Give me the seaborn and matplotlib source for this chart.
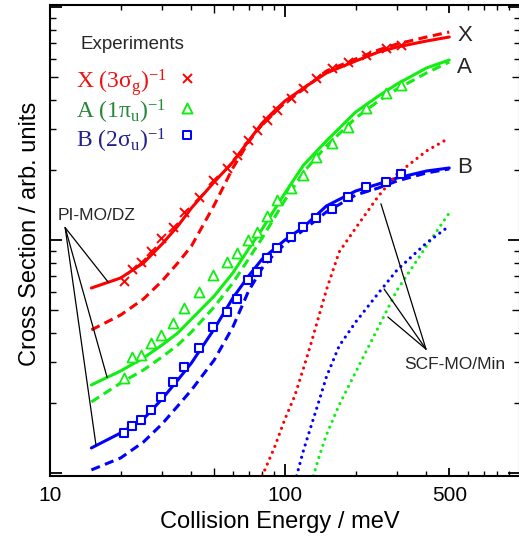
import numpy as np
import matplotlib
matplotlib.use("Agg")
import matplotlib.pyplot as plt
import seaborn as sns
from matplotlib.ticker import FixedLocator, FixedFormatter, NullFormatter

# ---------------- data ----------------
# experimental collision energies (meV), shared by the three ionic states
exp_energy = [20.6, 22.3, 24.4, 26.9, 29.7, 33.4, 37.2, 43.0, 49.4, 56.6, 62.5, 69.6,
              76.0, 83.8, 92.5, 106, 119, 135, 158, 185, 221, 269, 312]
exp_X = [0.667, 0.751, 0.805, 0.897, 1.020, 1.137, 1.319, 1.529, 1.809, 2.037, 2.316, 2.687,
         2.966, 3.273, 3.614, 4.069, 4.491, 4.958, 5.472, 5.808, 6.223, 6.668, 6.869]
exp_A = [0.2557, 0.3147, 0.3209, 0.3613, 0.3912, 0.4403, 0.5107, 0.598, 0.7077, 0.805, 0.8795, 1.0,
         1.082, 1.268, 1.485, 1.672, 1.901, 2.271, 2.609, 3.055, 3.686, 4.275, 4.627]
exp_B = [0.1485, 0.1591, 0.1689, 0.1864, 0.2120, 0.2458, 0.2850, 0.3439, 0.4232, 0.4909, 0.5581, 0.6734,
         0.7291, 0.8369, 0.9241, 1.030, 1.137, 1.243, 1.358, 1.529, 1.689, 1.774, 1.920]

# PI-MO/DZ calculations
theory_energy = [15, 20, 25, 30, 35, 40, 50, 60, 70, 80, 90, 100, 120, 150, 200, 250, 300, 400, 500]
pimo_X_solid = [0.622, 0.687, 0.797, 0.961, 1.148, 1.372, 1.774, 2.162, 2.660, 3.178, 3.577, 3.950,
                4.491, 5.209, 5.865, 6.411, 6.734, 7.146, 7.433]
pimo_X_dashed = [0.411, 0.4766, 0.5581, 0.667, 0.797, 0.942, 1.413, 2.037, 2.634, 3.147, 3.543, 3.873,
                 4.447, 5.313, 5.982, 6.539, 6.937, 7.433, 7.810]
pimo_A_solid = [0.2386, 0.2741, 0.3115, 0.3542, 0.399, 0.458, 0.575, 0.722, 0.915, 1.115, 1.345, 1.591,
                2.098, 2.660, 3.543, 4.150, 4.673, 5.472, 5.922]
pimo_A_dashed = [0.2017, 0.2433, 0.2767, 0.3147, 0.3542, 0.4029, 0.516, 0.654, 0.829, 1.020, 1.243, 1.485,
                 1.958, 2.532, 3.339, 3.950, 4.447, 5.209, 5.806]
pimo_B_solid = [0.128, 0.1485, 0.1705, 0.2078, 0.2506, 0.2966, 0.415, 0.5637, 0.7005, 0.829, 0.915, 1.0,
                1.137, 1.399, 1.623, 1.739, 1.845, 1.977, 2.037]
pimo_B_dashed = [0.103, 0.116, 0.1358, 0.1623, 0.194, 0.227, 0.3055, 0.4232, 0.604, 0.758, 0.871, 0.961,
                 1.104, 1.319, 1.560, 1.672, 1.792, 1.939, 2.017]

# SCF-MO/Min calculations
scf_X_energy = [80, 90, 100, 110, 120, 130, 150, 170, 200, 250, 300, 400, 500]
scf_X = [0.0971, 0.128, 0.1705, 0.214, 0.2822, 0.3686, 0.610, 0.8882, 1.126, 1.545, 1.920, 2.410, 2.740]
scf_B_energy = [112, 120, 130, 140, 150, 170, 200, 250, 300, 400, 500]
scf_B = [0.0971, 0.1255, 0.1623, 0.2057, 0.2582, 0.3508, 0.4446, 0.592, 0.7435, 0.9707, 1.148]
scf_A_energy = [132, 140, 150, 170, 200, 250, 300, 400, 500]
scf_A = [0.0971, 0.1183, 0.1456, 0.1957, 0.2713, 0.4232, 0.610, 0.942, 1.306]

x_tick_values = [10, 100, 500, 1000]
x_tick_labels = ["10", "100", "500", ""]

# ---------------- style ----------------
sns.set_theme(style="ticks")
plt.rcParams["font.family"] = ["Liberation Sans", "DejaVu Sans"]
plt.rcParams["mathtext.fontset"] = "custom"
plt.rcParams["mathtext.rm"] = "Liberation Serif"
plt.rcParams["mathtext.it"] = "Liberation Serif:italic"

RED = "#ff0000"
GREEN = "#11ee11"
BLUE = "#0000ff"
TXT_X = "#ee1111"
TXT_A = "#22883a"
TXT_B = "#22228a"

fig = plt.figure(figsize=(5.19, 5.39), dpi=100)
ax = fig.add_axes([50 / 519, 63 / 539, 470 / 519, 471 / 539])
ax.set_xscale("log")
ax.set_yscale("log")
ax.set_xlim(10, 1000)
ax.set_ylim(0.097, 10.2)

LW = 2.2
DASH = (0, (3.0, 1.8))
DOT = (0, (0.01, 2.0))

for y, c in [(pimo_X_solid, RED), (pimo_A_solid, GREEN), (pimo_B_solid, BLUE)]:
    sns.lineplot(x=theory_energy, y=y, color=c, linewidth=LW, ax=ax, zorder=2)
for y, c in [(pimo_X_dashed, RED), (pimo_A_dashed, GREEN), (pimo_B_dashed, BLUE)]:
    sns.lineplot(x=theory_energy, y=y, color=c, linewidth=LW, linestyle=DASH, ax=ax, zorder=2)
for e, y, c in [(scf_X_energy, scf_X, RED), (scf_A_energy, scf_A, GREEN), (scf_B_energy, scf_B, BLUE)]:
    sns.lineplot(x=e, y=y, color=c, linewidth=2.3, linestyle=DOT, ax=ax, zorder=2)
    ax.lines[-1].set_dash_capstyle("round")

sns.scatterplot(x=exp_energy, y=exp_X, marker="x", color=RED, s=42, linewidth=1.4, ax=ax, zorder=3)
sns.scatterplot(x=exp_energy, y=exp_A, marker="^", facecolor="white", edgecolor=GREEN, s=52,
                linewidth=1.3, ax=ax, zorder=3)
sns.scatterplot(x=exp_energy, y=exp_B, marker="s", facecolor="white", edgecolor=BLUE, s=40,
                linewidth=1.5, ax=ax, zorder=3)

# ---------------- axes / ticks ----------------
for sp in ax.spines.values():
    sp.set_linewidth(1.5)
    sp.set_color("black")
    sp.set_visible(True)

ax.xaxis.set_major_locator(FixedLocator(x_tick_values))
ax.xaxis.set_major_formatter(FixedFormatter(x_tick_labels))
x_minor = [k * 10 for k in range(2, 10)] + [k * 100 for k in range(2, 10) if k != 5]
ax.xaxis.set_minor_locator(FixedLocator(x_minor))
ax.xaxis.set_minor_formatter(NullFormatter())

y_major = [0.1, 1, 10]
y_minor = [k * 0.1 for k in range(2, 10)] + [k * 1.0 for k in range(2, 10)]
ax.yaxis.set_major_locator(FixedLocator(y_major))
ax.yaxis.set_minor_locator(FixedLocator(y_minor))
ax.yaxis.set_major_formatter(NullFormatter())
ax.yaxis.set_minor_formatter(NullFormatter())

ax.tick_params(which="both", direction="in", top=True, right=True, bottom=True, left=True,
               color="black")
ax.tick_params(which="major", length=8.6, width=1.3, pad=7, labelsize=15, labelcolor="black")
ax.tick_params(which="minor", length=3.6, width=1.0)
ax.tick_params(axis="y", which="minor", length=4.3)

MID = 5.8
for t, loc in zip(ax.xaxis.get_major_ticks(len(x_tick_values)), x_tick_values):
    if loc == 500:
        t.tick1line.set_markersize(MID)
        t.tick2line.set_markersize(MID)
for t, loc in zip(ax.xaxis.get_minor_ticks(len(x_minor)), x_minor):
    if loc == 50:
        t.tick1line.set_markersize(MID)
        t.tick2line.set_markersize(MID)
for t, loc in zip(ax.yaxis.get_minor_ticks(len(y_minor)), y_minor):
    if abs(loc - 5) < 1e-6 or abs(loc - 0.5) < 1e-6:
        t.tick1line.set_markersize(MID)
        t.tick2line.set_markersize(MID)

ax.set_xlabel("Collision Energy / meV", fontsize=17, color="black")
ax.set_ylabel("Cross Section / arb. units", fontsize=17, color="black")
ax.xaxis.set_label_coords(0.49, -0.074)
ax.yaxis.set_label_coords(-0.020, 0.515)

# ---------------- legend-like text block ----------------
ax.text(0.064, 0.917, "Experiments", transform=ax.transAxes, fontsize=13.5, ha="left", va="center")
rows = [
    (r"X (3$\mathrm{\sigma}_{\mathrm{g}}$)$^{\mathrm{-1}}$", TXT_X, 0.824, 0.845, "x", RED, "none"),
    (r"A (1$\mathrm{\pi}_{\mathrm{u}}$)$^{\mathrm{-1}}$", TXT_A, 0.758, 0.781, "^", GREEN, "white"),
    (r"B (2$\mathrm{\sigma}_{\mathrm{u}}$)$^{\mathrm{-1}}$", TXT_B, 0.6965, 0.724, "s", BLUE, "white"),
]
for label, tc, yb, ym, mk, mc, fc in rows:
    ax.text(0.055, yb, label, transform=ax.transAxes, fontsize=17, color=tc,
            family="Liberation Serif", ha="left", va="baseline")
    if mk == "x":
        ax.scatter([0.2915], [ym], transform=ax.transAxes, marker=mk, color=mc, s=42,
                   linewidths=1.4, zorder=4, clip_on=False)
    else:
        ax.scatter([0.2915], [ym], transform=ax.transAxes, marker=mk, facecolor=fc,
                   edgecolor=mc, s=52 if mk == "^" else 40, linewidths=1.4, zorder=4, clip_on=False)

# state labels at curve ends
for lab, yy in [("X", 0.936), ("A", 0.868), ("B", 0.654)]:
    ax.text(0.866, yy, lab, transform=ax.transAxes, fontsize=16, ha="left", va="center")

# ---------------- annotations ----------------
def on_curve(e, xs, ys):
    return float(10 ** np.interp(np.log10(e), np.log10(xs), np.log10(ys)))

ax.text(0.017, 0.554, "PI-MO/DZ", transform=ax.transAxes, fontsize=12.5, ha="left", va="center")
pi_apex = (11.6, 1.13)
for e, ys in [(17.7, pimo_X_solid), (17.5, pimo_A_solid), (15.7, pimo_B_solid)]:
    ax.annotate("", xy=(e, on_curve(e, theory_energy, ys)), xytext=pi_apex,
                arrowprops=dict(arrowstyle="-", color="black", lw=0.9, shrinkA=0, shrinkB=0))

ax.text(0.753, 0.236, "SCF-MO/Min", transform=ax.transAxes, fontsize=12.5, ha="left", va="center")
scf_apex = (398, 0.340)
for pt in [(256, 1.43), (264, 0.616), (274, 0.467)]:
    ax.annotate("", xy=pt, xytext=scf_apex,
                arrowprops=dict(arrowstyle="-", color="black", lw=0.9, shrinkA=0, shrinkB=0))

fig.savefig("out.png", dpi=100)
